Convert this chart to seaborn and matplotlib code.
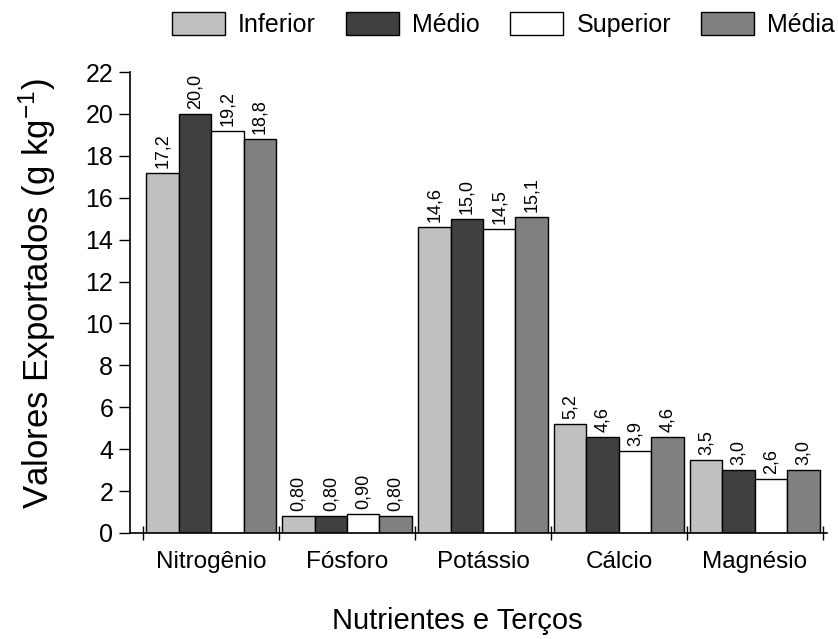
import matplotlib
matplotlib.use("Agg")
import matplotlib.pyplot as plt
import seaborn as sns
import pandas as pd

categories = ["Nitrogênio", "Fósforo", "Potássio", "Cálcio", "Magnésio"]
series_names = ["Inferior", "Médio", "Superior", "Média"]
inferior = [17.2, 0.80, 14.6, 5.2, 3.5]
medio = [20.0, 0.80, 15.0, 4.6, 3.0]
superior = [19.2, 0.90, 14.5, 3.9, 2.6]
media = [18.8, 0.80, 15.1, 4.6, 3.0]
decimals = [1, 2, 1, 1, 1]
y_ticks = list(range(0, 23, 2))

colors = ["#c0c0c0", "#404040", "#ffffff", "#808080"]

sns.set_style("ticks")
plt.rcParams["font.family"] = ["Liberation Sans", "DejaVu Sans"]
plt.rcParams["mathtext.default"] = "regular"
plt.rcParams["text.color"] = "black"
plt.rcParams["xtick.color"] = "black"
plt.rcParams["ytick.color"] = "black"
plt.rcParams["xtick.labelcolor"] = "black"
plt.rcParams["ytick.labelcolor"] = "black"

rows = []
for name, vals in zip(series_names, [inferior, medio, superior, media]):
    for c, v in zip(categories, vals):
        rows.append({"cat": c, "serie": name, "valor": v})
df = pd.DataFrame(rows)

fig = plt.figure(figsize=(8.38, 6.39), dpi=100)
ax = fig.add_axes([130 / 838, 1 - 533 / 639, 697 / 838, (533 - 72) / 639])

sns.barplot(data=df, x="cat", y="valor", hue="serie", order=categories,
            hue_order=series_names, palette=colors, width=0.955,
            edgecolor="black", linewidth=1.0, saturation=1, ax=ax, errorbar=None)

for cont, vals in zip(ax.containers, [inferior, medio, superior, media]):
    labels = [f"{v:.{d}f}".replace(".", ",") for v, d in zip(vals, decimals)]
    ax.bar_label(cont, labels=labels, rotation=90, padding=3.5, fontsize=13, color="black")

ax.set_xlim(-0.596, 4.53)
ax.set_ylim(0, 22)
ax.set_yticks(y_ticks)
ax.tick_params(axis="y", direction="out", length=8, width=1, labelsize=18, pad=4)
ax.set_xticks(range(len(categories)))
ax.set_xticklabels(categories)
ax.tick_params(axis="x", which="major", length=0, labelsize=17.5, pad=13)
ax.set_xticks([i - 0.5 for i in range(len(categories) + 1)], minor=True)
ax.tick_params(axis="x", which="minor", direction="inout", length=10, width=1)
for s in ["top", "right"]:
    ax.spines[s].set_visible(False)
for s in ["left", "bottom"]:
    ax.spines[s].set_linewidth(1.2)
    ax.spines[s].set_color("black")
ax.set_xlabel("")
ax.set_ylabel("")

fig.text(457 / 838, 1 - 621 / 639, "Nutrientes e Terços", ha="center", va="center", fontsize=21)
fig.text(37 / 838, 1 - 294 / 639, "Valores Exportados (g kg$^{-1}$)", ha="center", va="center",
         rotation=90, fontsize=25)

handles, labels = ax.get_legend_handles_labels()
ax.legend(handles, labels, loc="upper left", bbox_to_anchor=(172 / 838, 1 - 12 / 639),
          bbox_transform=fig.transFigure, ncol=4, frameon=False, fontsize=18,
          handlelength=2.1, handleheight=1.05, handletextpad=0.55, columnspacing=1.2,
          borderpad=0, borderaxespad=0)

fig.savefig("out.png", dpi=100)
